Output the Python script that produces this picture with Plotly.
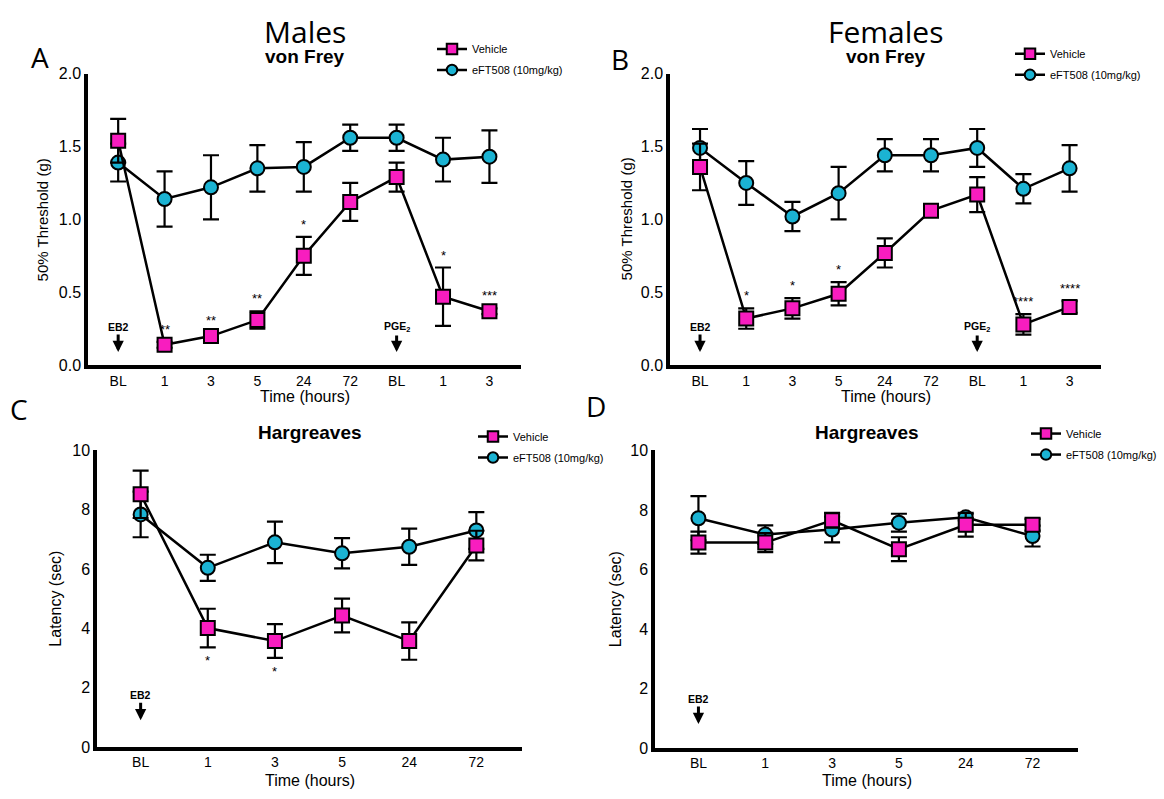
import plotly.graph_objects as go

W, H = 1164, 799

# ---------------- data ----------------
vf_labels = ["BL", "1", "3", "5", "24", "72", "BL", "1", "3"]
hg_labels = ["BL", "1", "3", "5", "24", "72"]

# A: Males, von Frey
a_veh = [1.54, 0.14, 0.20, 0.31, 0.75, 1.12, 1.29, 0.47, 0.37]
a_veh_err = [0.15, 0.02, 0.02, 0.06, 0.13, 0.13, 0.10, 0.20, 0.02]
a_eft = [1.39, 1.14, 1.22, 1.35, 1.36, 1.56, 1.56, 1.41, 1.43]
a_eft_err = [0.13, 0.19, 0.22, 0.16, 0.17, 0.09, 0.09, 0.15, 0.18]
a_sig = ["", "**", "**", "**", "*", "", "", "*", "***"]

# B: Females, von Frey
b_veh = [1.36, 0.32, 0.39, 0.49, 0.77, 1.06, 1.17, 0.28, 0.40]
b_veh_err = [0.16, 0.07, 0.07, 0.08, 0.10, 0.02, 0.12, 0.07, 0.04]
b_eft = [1.49, 1.25, 1.02, 1.18, 1.44, 1.44, 1.49, 1.21, 1.35]
b_eft_err = [0.13, 0.15, 0.10, 0.18, 0.11, 0.11, 0.13, 0.10, 0.16]
b_sig = ["", "*", "*", "*", "", "", "", "****", "****"]

# C: Males, Hargreaves
c_veh = [8.52, 4.01, 3.57, 4.43, 3.57, 6.79]
c_veh_err = [0.80, 0.65, 0.57, 0.57, 0.63, 0.50]
c_eft = [7.84, 6.04, 6.90, 6.53, 6.75, 7.30]
c_eft_err = [0.77, 0.44, 0.70, 0.51, 0.61, 0.62]
c_sig = ["", "*", "*", "", "", ""]

# D: Females, Hargreaves
d_veh = [6.90, 6.90, 7.65, 6.68, 7.50, 7.50]
d_veh_err = [0.37, 0.32, 0.25, 0.40, 0.40, 0.20]
d_eft = [7.72, 7.17, 7.34, 7.57, 7.75, 7.12]
d_eft_err = [0.74, 0.31, 0.43, 0.30, 0.10, 0.35]
d_sig = ["", "", "", "", "", ""]

series_names = ["Vehicle", "eFT508 (10mg/kg)"]

PINK = "#F81DBF"
CYAN = "#1BB3D3"
FONT = "Liberation Sans"
TITLE_FONT = "Open Sans"

# ---------------- panel layout (pixels) ----------------
panels = [
    dict(letter="A", head="Males", sub="von Frey", labels=vf_labels,
         veh=a_veh, veh_err=a_veh_err, eft=a_eft, eft_err=a_eft_err, sig=a_sig, sig_above=True,
         px=(88, 521), py=(67, 365), yr=[0, 2], dtick=0.5, fmt=".1f",
         ytitle="50% Threshold (g)", ytitle_x=42, ytitle_size=15,
         letter_xy=(40, 50), head_y=24, sub_y=50, xt_y=397,
         leg_xy=(453, 43), markers=[("EB2", 0), ("PGE<sub>2</sub>", 6)], arrow_tip=0.09),
    dict(letter="B", head="Females", sub="von Frey", labels=vf_labels,
         veh=b_veh, veh_err=b_veh_err, eft=b_eft, eft_err=b_eft_err, sig=b_sig, sig_above=True,
         px=(670, 1101), py=(67, 365), yr=[0, 2], dtick=0.5, fmt=".1f",
         ytitle="50% Threshold (g)", ytitle_x=626, ytitle_size=15,
         letter_xy=(620, 52), head_y=24, sub_y=50, xt_y=397,
         leg_xy=(1031, 48), markers=[("EB2", 0), ("PGE<sub>2</sub>", 6)], arrow_tip=0.09),
    dict(letter="C", head=None, sub="Hargreaves", labels=hg_labels,
         veh=c_veh, veh_err=c_veh_err, eft=c_eft, eft_err=c_eft_err, sig=c_sig, sig_above=False,
         px=(97, 522), py=(452, 755), yr=[0, 10], dtick=2, fmt="d",
         ytitle="Latency (sec)", ytitle_x=56, ytitle_size=16,
         letter_xy=(19, 410), head_y=None, sub_y=434, xt_y=789,
         leg_xy=(494, 439), markers=[("EB2", 0)], arrow_tip=0.9),
    dict(letter="D", head=None, sub="Hargreaves", labels=hg_labels,
         veh=d_veh, veh_err=d_veh_err, eft=d_eft, eft_err=d_eft_err, sig=d_sig, sig_above=True,
         px=(655, 1078), py=(452, 756), yr=[0, 10], dtick=2, fmt="d",
         ytitle="Latency (sec)", ytitle_x=615, ytitle_size=16,
         letter_xy=(596, 407), head_y=None, sub_y=434, xt_y=789,
         leg_xy=(1047, 436), markers=[("EB2", 0)], arrow_tip=0.8),
]

fig = go.Figure()
layout = dict(width=W, height=H, margin=dict(l=0, r=0, t=0, b=0),
              paper_bgcolor="white", plot_bgcolor="white", showlegend=True,
              font=dict(family=FONT, color="black"))
annotations = []


def fx(p):
    return p / W


def fy(p):
    return 1 - p / H


for i, P in enumerate(panels):
    n = i + 1
    xa = "x" if n == 1 else f"x{n}"
    ya = "y" if n == 1 else f"y{n}"
    leg = "legend" if n == 1 else f"legend{n}"
    xs = list(range(len(P["labels"])))
    nlast = len(xs) - 1
    xr = [-0.65, nlast + 0.68]

    layout["xaxis" if n == 1 else f"xaxis{n}"] = dict(
        domain=[fx(P["px"][0]), fx(P["px"][1])], anchor=ya, range=xr,
        tickmode="array", tickvals=xs, ticktext=P["labels"],
        showline=True, linewidth=3.5, linecolor="black", ticks="",
        showgrid=False, zeroline=False, fixedrange=True,
        tickfont=dict(size=14, family=FONT, color="black"))
    layout["yaxis" if n == 1 else f"yaxis{n}"] = dict(
        domain=[fy(P["py"][1]), fy(P["py"][0])], anchor=xa, range=P["yr"],
        dtick=P["dtick"], tickformat=P["fmt"],
        showline=True, linewidth=3.5, linecolor="black", ticks="",
        showgrid=False, zeroline=False, fixedrange=True,
        tickfont=dict(size=16, family=FONT, color="black"))

    # data traces: eFT508 first so Vehicle sits on top
    for name, vals, errs, sym, col in [
        (series_names[1], P["eft"], P["eft_err"], "circle", CYAN),
        (series_names[0], P["veh"], P["veh_err"], "square", PINK),
    ]:
        fig.add_trace(go.Scatter(
            x=xs, y=vals, xaxis=xa, yaxis=ya, mode="lines+markers", name=name,
            showlegend=False, cliponaxis=False, hoverinfo="skip",
            line=dict(color="black", width=2.5),
            marker=dict(symbol=sym, size=14, color=col, line=dict(color="black", width=2)),
            error_y=dict(type="data", array=errs, visible=True, color="black",
                         thickness=2.2, width=8)))

    # legend entries
    for gi, (name, sym, col) in enumerate([(series_names[0], "square", PINK),
                                          (series_names[1], "circle", CYAN)]):
        fig.add_trace(go.Scatter(
            x=[None], y=[None], xaxis=xa, yaxis=ya, mode="lines+markers", name=name,
            legend=leg, legendgroup=f"{leg}_{gi}", showlegend=True,
            line=dict(color="black", width=2.5),
            marker=dict(symbol=sym, size=10.5, color=col, line=dict(color="black", width=2))))
    lx, ly = P["leg_xy"]
    layout[leg] = dict(x=fx(lx - 21), y=fy(ly - 16), xanchor="left", yanchor="top",
                       bgcolor="rgba(0,0,0,0)", borderwidth=0, traceorder="grouped",
                       tracegroupgap=2, itemwidth=30, itemclick=False, itemdoubleclick=False,
                       font=dict(size=11, family=FONT, color="black"))

    # significance stars
    for xi, s in enumerate(P["sig"]):
        if not s:
            continue
        if P["sig_above"]:
            yv = P["veh"][xi] + P["veh_err"][xi]
            annotations.append(dict(x=xi, y=yv, xref=xa, yref=ya, text=s, showarrow=False,
                                    yanchor="bottom", yshift=3,
                                    font=dict(size=13, family=FONT, color="black")))
        else:
            yv = P["veh"][xi] - P["veh_err"][xi]
            annotations.append(dict(x=xi, y=yv, xref=xa, yref=ya, text=s, showarrow=False,
                                    yanchor="top", yshift=-4,
                                    font=dict(size=13, family=FONT, color="black")))

    # treatment arrows
    for txt, xi in P["markers"]:
        annotations.append(dict(x=xi, y=P["arrow_tip"], xref=xa, yref=ya, text=f"<b>{txt}</b>",
                                showarrow=True, ax=0, ay=-25, axref="pixel", ayref="pixel",
                                arrowhead=2, arrowsize=0.75, arrowwidth=3, arrowcolor="black",
                                startstandoff=0,
                                font=dict(size=10.5, family=FONT, color="black")))

    cx = (P["px"][0] + P["px"][1]) / 2
    annotations.append(dict(x=fx(P["letter_xy"][0]), y=fy(P["letter_xy"][1]), xref="paper",
                            yref="paper", text=P["letter"], showarrow=False,
                            xanchor="center", yanchor="middle",
                            font=dict(size=28, family=TITLE_FONT, color="black")))
    if P["head"]:
        annotations.append(dict(x=fx(cx), y=fy(P["head_y"]), xref="paper", yref="paper",
                                text=P["head"], showarrow=False, xanchor="center",
                                yanchor="middle",
                                font=dict(size=30, family=TITLE_FONT, color="black")))
    annotations.append(dict(x=fx(cx), y=fy(P["sub_y"]), xref="paper", yref="paper",
                            text=f"<b>{P['sub']}</b>", showarrow=False, xanchor="center",
                            yanchor="middle", font=dict(size=19, family=FONT, color="black")))
    annotations.append(dict(x=fx(P["ytitle_x"]), y=fy((P["py"][0] + P["py"][1]) / 2),
                            xref="paper", yref="paper", text=P["ytitle"], textangle=-90,
                            showarrow=False, xanchor="center", yanchor="middle",
                            font=dict(size=P["ytitle_size"], family=FONT, color="black")))
    annotations.append(dict(x=fx(cx), y=fy(P["xt_y"]), xref="paper", yref="paper",
                            text="Time (hours)", showarrow=False, xanchor="center",
                            yanchor="middle", font=dict(size=16, family=FONT, color="black")))

layout["annotations"] = annotations
fig.update_layout(**layout)
fig.write_html("out.html",
               config={"displayModeBar": False, "staticPlot": False},
               post_script="document.body.style.margin='0px';document.body.style.overflow='hidden';")
